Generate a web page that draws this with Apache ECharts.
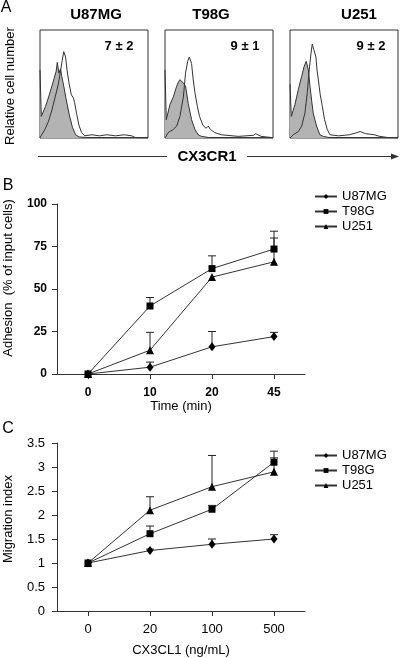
<!DOCTYPE html>
<html><head><meta charset="utf-8">
<script src="https://cdn.jsdelivr.net/npm/echarts@6/dist/echarts.min.js"></script>
<style>html,body{margin:0;padding:0;background:#fff}#c{width:401px;height:658px}</style>
</head><body><div id="c"></div>
<script>
const FONT = "'Liberation Sans', Arial, Helvetica, sans-serif";

// ---------- Panel A: flow cytometry histograms (x = channel %, y = relative count %) ----------
const cellLines = ['U87MG', 'T98G', 'U251'];
const aStats = ['7 ± 2', '9 ± 1', '9 ± 2'];
const u87Iso = [[0,63],[0.8,63],[1.2,20],[5,29],[8,38],[11,48],[13,55],[15,62],[16,70],[17.5,60],[19,64],[20,58],[22,48],[24,37],[27,22],[30,10],[33,3],[36,1],[42,0.5],[100,0.3]];
const u87Ab = [[0,0],[1,2],[4.6,8],[7.7,15],[10.8,25],[13.8,37],[17,50],[19,62],[20.6,72],[22,80],[23.7,75],[25,63],[27,50],[29,40],[31,37],[32,33],[34,22],[36,12],[38.5,5],[41.5,2],[48,3],[55,2],[62,3],[70,2],[78,3],[85,2],[88,0.5],[100,0]];
const t98Iso = [[0,63],[0.8,63],[1.2,17],[4.6,31],[7.7,38],[10.8,48],[12.5,52],[13.8,54],[15,55],[17,51],[19,48],[21.5,32],[24.6,17],[27.7,8],[30.8,3],[33.8,1.5],[40,0.5],[100,0.3]];
const t98Ab = [[0,0],[3,5],[7.7,8],[10.8,11],[13.8,20],[17,38],[19,60],[21,71],[22.5,75],[24.6,69],[26,55],[27.7,42],[30,29],[32,20],[35,12],[38,9],[40,11],[42,8],[46,5],[52,3],[68,1.5],[82,2.5],[84,4],[89,1.5],[98,0.5],[100,0]];
const u251Iso = [[0,50],[0.8,50],[1.2,20],[4.6,31],[7.7,45],[10.8,57],[13,66],[15,71],[17,63],[18.5,48],[20,35],[21.5,23],[24.6,11],[27.7,3],[30.8,1.5],[36,0.5],[100,0.3]];
const u251Ab = [[0,0],[3,3],[7.7,6],[10.8,11],[13.8,23],[16,42],[17.8,63],[19.4,78],[20.6,87],[22,82],[24,75],[25,63],[27,48],[28,40],[30,29],[32,17],[34.5,8],[37,3],[45,2],[55,3],[62,5],[65,6],[70,4],[78,3],[83,1.5],[90,0.5],[100,0]];
const isoSets = [u87Iso, t98Iso, u251Iso];
const abSets = [u87Ab, t98Ab, u251Ab];

// ---------- Panel B: adhesion ----------
const bCats = ['0', '10', '20', '45'];
const bU87 = [0, 4, 16, 22];
const bU87Sd = [0, 3, 9, 2.5];
const bT98 = [0, 40, 62, 73.5];
const bT98Sd = [0, 5, 7.5, 10.5];
const bU251 = [0, 14, 57, 66];
const bU251Sd = [0, 10.5, 0, 14];

// ---------- Panel C: migration ----------
const cCats = ['0', '20', '100', '500'];
const cU87 = [1, 1.26, 1.39, 1.5];
const cU87Sd = [0, 0.03, 0.11, 0.09];
const cT98 = [1, 1.61, 2.12, 3.1];
const cT98Sd = [0, 0.16, 0.08, 0.23];
const cU251 = [1, 2.1, 2.59, 2.9];
const cU251Sd = [0, 0.28, 0.65, 0.29];

const symbols = ['diamond', 'rect', 'triangle'];
const symSizes = [[7, 9], 7, 8];

function errRender(params, api) {
  const x = api.value(0), lo = api.value(1), hi = api.value(2);
  const p0 = api.coord([x, lo]), p1 = api.coord([x, hi]);
  const st = { stroke: '#222', lineWidth: 1 };
  return { type: 'group', children: [
    { type: 'line', shape: { x1: p0[0], y1: p0[1], x2: p1[0], y2: p1[1] }, style: st },
    { type: 'line', shape: { x1: p1[0] - 4, y1: p1[1], x2: p1[0] + 4, y2: p1[1] }, style: st }
  ] };
}
function errSeries(name, means, sds, gi) {
  const data = [];
  means.forEach((m, i) => { if (sds[i] > 0) data.push([i, m, m + sds[i]]); });
  return { type: 'custom', name: name, xAxisIndex: gi, yAxisIndex: gi, renderItem: errRender,
    data: data, encode: { x: 0, y: [1, 2] }, z: 1, silent: true };
}
function lineSeries(idx, data, gi) {
  return { type: 'line', name: cellLines[idx], data: data, xAxisIndex: gi, yAxisIndex: gi,
    symbol: symbols[idx], symbolSize: symSizes[idx], showSymbol: true,
    lineStyle: { color: '#333', width: 1 }, itemStyle: { color: '#000' }, z: 3 };
}

const grids = [
  { left: 40, top: 30, width: 108, height: 108, show: true, borderColor: '#333', borderWidth: 1 },
  { left: 165, top: 30, width: 108, height: 108, show: true, borderColor: '#333', borderWidth: 1 },
  { left: 290, top: 30, width: 108, height: 108, show: true, borderColor: '#333', borderWidth: 1 },
  { left: 57, top: 204, width: 248, height: 170 },
  { left: 57, top: 443, width: 248, height: 169 }
];
const xAxes = [], yAxes = [];
for (let i = 0; i < 3; i++) {
  xAxes.push({ gridIndex: i, type: 'value', min: 0, max: 100, show: false });
  yAxes.push({ gridIndex: i, type: 'value', min: 0, max: 100, show: false });
}
const axLine = { show: true, lineStyle: { color: '#333', width: 1 } };
const axTick = { show: true, length: 5, lineStyle: { color: '#333', width: 1 } };
xAxes.push({ gridIndex: 3, type: 'category', data: bCats, boundaryGap: true,
  axisLine: axLine, axisTick: Object.assign({ alignWithLabel: true }, axTick),
  axisLabel: { color: '#000', fontFamily: FONT, fontSize: 12, fontWeight: 'bold', margin: 13 },
  name: 'Time (min)', nameLocation: 'middle', nameGap: 24,
  nameTextStyle: { color: '#000', fontFamily: FONT, fontSize: 13 } });
yAxes.push({ gridIndex: 3, type: 'value', min: 0, max: 100, interval: 25,
  axisLine: axLine, axisTick: axTick, splitLine: { show: false },
  axisLabel: { color: '#000', fontFamily: FONT, fontSize: 12, fontWeight: 'bold', margin: 10 } });
xAxes.push({ gridIndex: 4, type: 'category', data: cCats, boundaryGap: true,
  axisLine: axLine, axisTick: Object.assign({ alignWithLabel: true }, axTick),
  axisLabel: { color: '#000', fontFamily: FONT, fontSize: 13, margin: 12 },
  name: 'CX3CL1 (ng/mL)', nameLocation: 'middle', nameGap: 33,
  nameTextStyle: { color: '#000', fontFamily: FONT, fontSize: 13 } });
yAxes.push({ gridIndex: 4, type: 'value', min: 0, max: 3.5, interval: 0.5,
  axisLine: axLine, axisTick: axTick, splitLine: { show: false },
  axisLabel: { color: '#000', fontFamily: FONT, fontSize: 13, margin: 12 } });

const series = [];
for (let i = 0; i < 3; i++) {
  series.push({ type: 'line', name: 'iso-' + cellLines[i], xAxisIndex: i, yAxisIndex: i, data: isoSets[i],
    showSymbol: false, symbol: 'none', lineStyle: { color: '#333', width: 1 },
    areaStyle: { color: '#b3b3b3', opacity: 1 }, z: 2, silent: true });
  series.push({ type: 'line', name: 'ab-' + cellLines[i], xAxisIndex: i, yAxisIndex: i, data: abSets[i],
    showSymbol: false, symbol: 'none', lineStyle: { color: '#333', width: 1 }, z: 3, silent: true });
}
series.push(errSeries('errB0', bU87, bU87Sd, 3), errSeries('errB1', bT98, bT98Sd, 3), errSeries('errB2', bU251, bU251Sd, 3));
series.push(lineSeries(0, bU87, 3), lineSeries(1, bT98, 3), lineSeries(2, bU251, 3));
series.push(errSeries('errC0', cU87, cU87Sd, 4), errSeries('errC1', cT98, cT98Sd, 4), errSeries('errC2', cU251, cU251Sd, 4));
series.push(lineSeries(0, cU87, 4), lineSeries(1, cT98, 4), lineSeries(2, cU251, 4));

const legendBase = { data: cellLines, orient: 'vertical', left: 309, itemWidth: 22, itemHeight: 6, itemGap: 2,
  selectedMode: false, textStyle: { color: '#000', fontFamily: FONT, fontSize: 13 } };

const txt = (text, x, y, size, weight, extra) => Object.assign({ type: 'text', x: x, y: y,
  style: { text: text, fill: '#000', font: (weight || 'normal') + ' ' + size + 'px ' + FONT, align: 'center', verticalAlign: 'middle' } }, extra || {});

const graphics = [
  txt('A', 6, 8, 16, 'normal'),
  txt('B', 8, 186, 16, 'normal'),
  txt('C', 8, 429, 16, 'normal'),
  txt(cellLines[0], 96, 15, 15, 'bold'),
  txt(cellLines[1], 211, 15, 15, 'bold'),
  txt(cellLines[2], 359, 15, 15, 'bold'),
  txt(aStats[0], 119, 46, 13, 'bold'),
  txt(aStats[1], 245, 46, 13, 'bold'),
  txt(aStats[2], 371, 46, 13, 'bold'),
  txt('Relative cell number', 10, 86, 13, 'normal', { rotation: Math.PI / 2 }),
  txt('CX3CR1', 207, 157, 15, 'bold'),
  { type: 'line', shape: { x1: 38, y1: 156.5, x2: 167, y2: 156.5 }, style: { stroke: '#333', lineWidth: 1 } },
  { type: 'line', shape: { x1: 247, y1: 156.5, x2: 394, y2: 156.5 }, style: { stroke: '#333', lineWidth: 1 } },
  { type: 'polygon', shape: { points: [[399, 156.5], [391, 153.5], [391, 159.5]] }, style: { fill: '#333' } },
  txt('Adhesion  (% of input cells)', 8, 278, 13, 'normal', { rotation: Math.PI / 2 }),
  txt('Migration index', 8, 519, 13, 'normal', { rotation: Math.PI / 2 })
];

const chart = echarts.init(document.getElementById('c'));
chart.setOption({
  animation: false,
  backgroundColor: '#fff',
  grid: grids, xAxis: xAxes, yAxis: yAxes, series: series,
  legend: [Object.assign({ top: 185 }, legendBase), Object.assign({ top: 444 }, legendBase)],
  graphic: graphics
});
</script></body></html>
